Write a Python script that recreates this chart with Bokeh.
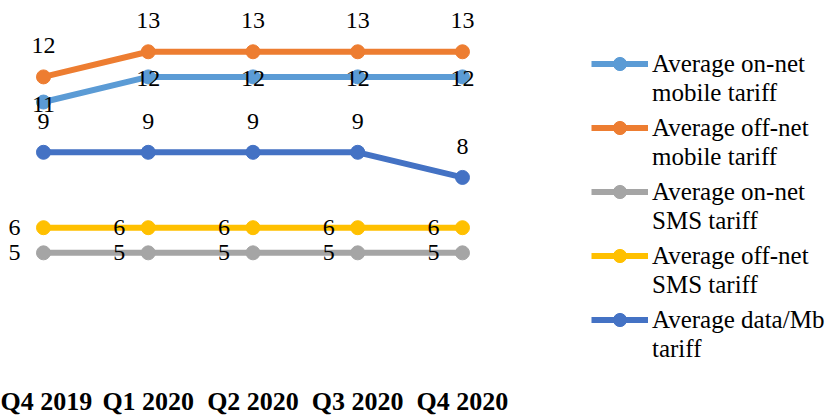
from bokeh.plotting import figure
from bokeh.models import Range1d, FixedTicker, Legend, LegendItem, ColumnDataSource
from bokeh.core.properties import value
from bokeh.embed import file_html
from bokeh.resources import INLINE

quarters = ["Q4 2019", "Q1 2020", "Q2 2020", "Q3 2020", "Q4 2020"]
onnet_mobile = [11, 12, 12, 12, 12]
offnet_mobile = [12, 13, 13, 13, 13]
onnet_sms = [5, 5, 5, 5, 5]
offnet_sms = [6, 6, 6, 6, 6]
data_mb = [9, 9, 9, 9, 8]

series_names_line1 = [
    "Average on-net",
    "Average off-net",
    "Average on-net",
    "Average off-net",
    "Average data/Mb",
]
series_names_line2 = [
    "mobile tariff",
    "mobile tariff",
    "SMS tariff",
    "SMS tariff",
    "tariff",
]
series_values = [onnet_mobile, offnet_mobile, onnet_sms, offnet_sms, data_mb]
colors = ["#5B9BD5", "#ED7D31", "#A5A5A5", "#FFC000", "#4472C4"]
# label placement: (x_offset, y_offset)
label_offsets = [(0, 2), (0, -31), (-29, 0), (-29, 0), (0, -31)]

FONT = "Liberation Serif"

p = figure(width=830, height=418,
           x_range=Range1d(-0.4105, 7.5135), y_range=Range1d(0.0, 15.04),
           output_backend="svg", toolbar_location=None, min_border=0,
           outline_line_color=None)
p.yaxis.visible = False
p.grid.visible = False
xa = p.xaxis[0]
xa.ticker = FixedTicker(ticks=list(range(len(quarters))))
xa.major_label_overrides = {i: q for i, q in enumerate(quarters)}
xa.axis_line_color = None
xa.major_tick_line_color = None
xa.minor_tick_line_color = None
xa.major_label_standoff = 2
xa.major_label_text_font = FONT
xa.major_label_text_font_style = "bold"
xa.major_label_text_font_size = "26px"
xa.major_label_text_color = "#000000"

xs = list(range(len(quarters)))
items1 = []
items2 = []
for n1, n2, vals, col in zip(series_names_line1, series_names_line2, series_values, colors):
    src = ColumnDataSource(dict(x=xs, y=vals))
    lr = p.line("x", "y", source=src, line_color=col, line_width=6)
    sr = p.scatter("x", "y", source=src, size=14, fill_color=col, line_color=col)
    items1.append(LegendItem(label=n1, renderers=[lr, sr]))
    items2.append(LegendItem(label=n2, renderers=[]))

for vals, (dx, dy) in zip(series_values, label_offsets):
    src = ColumnDataSource(dict(x=xs, y=vals, t=[str(v) for v in vals]))
    p.text("x", "y", text="t", source=src, x_offset=dx, y_offset=dy,
           text_align="center", text_baseline="middle",
           text_font=value(FONT), text_font_size="24px", text_color="#000000")

common = dict(glyph_width=57, glyph_height=33, label_height=20,
              label_text_font=FONT, label_text_font_size="25px",
              label_text_color="#000000", label_standoff=4,
              spacing=31, padding=0, margin=0,
              border_line_alpha=0, background_fill_alpha=0)
legend1 = Legend(items=items1, location=(591, 42), **common)
legend2 = Legend(items=items2, location=(591, 13), **common)
p.add_layout(legend1)
p.add_layout(legend2)

open("out.html", "w").write(file_html(p, INLINE))
